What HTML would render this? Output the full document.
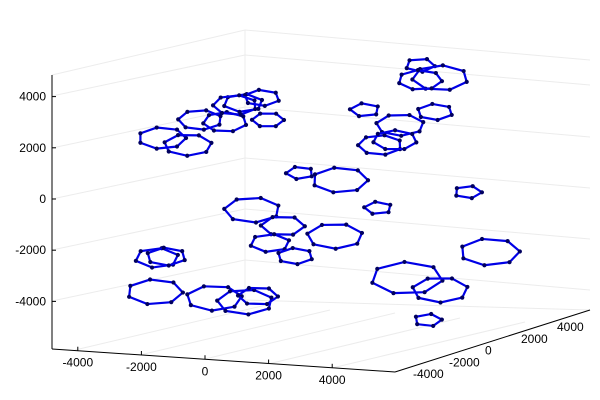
<!DOCTYPE html>
<html><head><meta charset="utf-8"><style>
html,body{margin:0;padding:0;background:#fff;}
svg{display:block;font-family:"Liberation Sans",sans-serif;}
</style></head><body>
<svg id="chart" width="600" height="400">
<g id="grid" stroke="#ececec" stroke-width="1" fill="none">
 <line x1="52" y1="75" x2="245" y2="30"/><line x1="245" y1="30" x2="590" y2="60"/>
 <line x1="245" y1="30" x2="245" y2="300"/>
 <line x1="52" y1="96" x2="245" y2="55"/><line x1="245" y1="55" x2="590" y2="85"/>
 <line x1="52" y1="148" x2="245" y2="107"/><line x1="245" y1="107" x2="590" y2="137"/>
 <line x1="52" y1="199" x2="245" y2="158"/><line x1="245" y1="158" x2="590" y2="188"/>
 <line x1="52" y1="250" x2="245" y2="209"/><line x1="245" y1="209" x2="590" y2="239"/>
 <line x1="52" y1="301" x2="245" y2="260"/><line x1="245" y1="260" x2="590" y2="290"/>
 <line x1="245" y1="300" x2="590" y2="310"/>
 <line x1="75" y1="350" x2="266" y2="305"/><line x1="140" y1="355" x2="330" y2="310"/>
 <line x1="205" y1="359" x2="395" y2="313"/><line x1="268" y1="364" x2="460" y2="318"/>
 <line x1="332" y1="368" x2="525" y2="322"/>
</g>
<g id="axes" stroke="#000" stroke-width="1">
 <line x1="52" y1="75" x2="52" y2="349"/>
 <line x1="52" y1="349" x2="395" y2="372"/>
 <line x1="395" y1="372" x2="590" y2="310"/>
</g>
<g id="ticks" font-size="12" fill="#000"></g>
<g id="rings"></g>
</svg>
<script>
const zTicks=[4000,2000,0,-2000,-4000];
const xTicks=[-4000,-2000,0,2000,4000];
const yTicks=[-4000,-2000,0,2000,4000];
// ring centers (thousands) in projected horizontal u and vertical z
const ringU=[-1.33,-0.53,-0.15,0.62,1.18,1.76,1.95,0.93,2.94,4.18,4.95,6.66,7.28,6.66,7.12,6.04,5.42,5.88,8.14,5.36,1.46,2.41,2.01,2.79,4.02,-1.49,-1.2,-1.55,0.28,1.24,1.64,6.25,8.82,7.28,6.90];
const ringZ=[2.38,2.11,3.09,3.01,3.75,3.95,3.09,3.67,1.02,0.74,3.48,5.23,4.73,4.65,3.40,2.89,2.11,2.30,0.27,-0.35,-0.43,-1.05,-1.72,-2.23,-1.45,-2.30,-2.25,-3.63,-3.87,-4.02,-3.79,-3.09,-2.07,-3.55,-4.73];
const ringSides=[7,7,7,7,6,6,6,7,5,7,5,5,7,7,6,7,7,7,5,5,7,6,6,6,7,6,6,7,7,7,6,7,7,7,5];
const ringSize=[24,24,22,22,20,18,16,22,14,28,15,15,28,22,18,24,22,22,14,14,28,22,20,18,28,22,20,28,28,28,20,36,30,28,14];
const ux=u=>205+u*32.3, zy=z=>199-z*25.6;
const NS="http://www.w3.org/2000/svg";
const tg=document.getElementById('ticks');
function txt(x,y,s,anchor){const t=document.createElementNS(NS,'text');t.setAttribute('x',x);t.setAttribute('y',y);t.setAttribute('text-anchor',anchor);t.textContent=s;


tg.appendChild(t);}
zTicks.forEach(v=>{const y=199-v*0.0256;txt(46,y+4,v,'end');const l=document.createElementNS(NS,'line');l.setAttribute('x1',52);l.setAttribute('x2',56);l.setAttribute('y1',y);l.setAttribute('y2',y);l.setAttribute('stroke','#000');tg.appendChild(l);});
xTicks.forEach(v=>{const x=205+v*0.0318;const y=349+(x-52)*23/343;txt(x,y+16,v,'middle');const l=document.createElementNS(NS,'line');l.setAttribute('x1',x);l.setAttribute('x2',x);l.setAttribute('y1',y-4);l.setAttribute('y2',y);l.setAttribute('stroke','#000');tg.appendChild(l);});
yTicks.forEach(v=>{const t=(v+4000)/8000;const x=413+t*144,y=378-t*47;txt(x,y,v,'start');});
const rg=document.getElementById('rings');
for(let i=0;i<ringU.length;i++){
 const cx=ux(ringU[i]),cy=zy(ringZ[i]),n=ringSides[i],rx=ringSize[i],ry=rx*0.45,rot=i*0.7;
 const pts=[];for(let k=0;k<n;k++){const a=rot+k*2*Math.PI/n;pts.push([cx+rx*Math.cos(a),cy+ry*Math.sin(a)]);}
 const g=document.createElementNS(NS,'g');
 
 
 const p=document.createElementNS(NS,'polygon');p.setAttribute('points',pts.map(q=>q.join(',')).join(' '));
 p.setAttribute('fill','none');p.setAttribute('stroke','#0000e6');p.setAttribute('stroke-width','2.2');g.appendChild(p);
 pts.forEach(q=>{const c=document.createElementNS(NS,'circle');c.setAttribute('cx',q[0]);c.setAttribute('cy',q[1]);c.setAttribute('r',2.1);c.setAttribute('fill','#000060');g.appendChild(c);});
 rg.appendChild(g);
}
</script>
</body></html>
